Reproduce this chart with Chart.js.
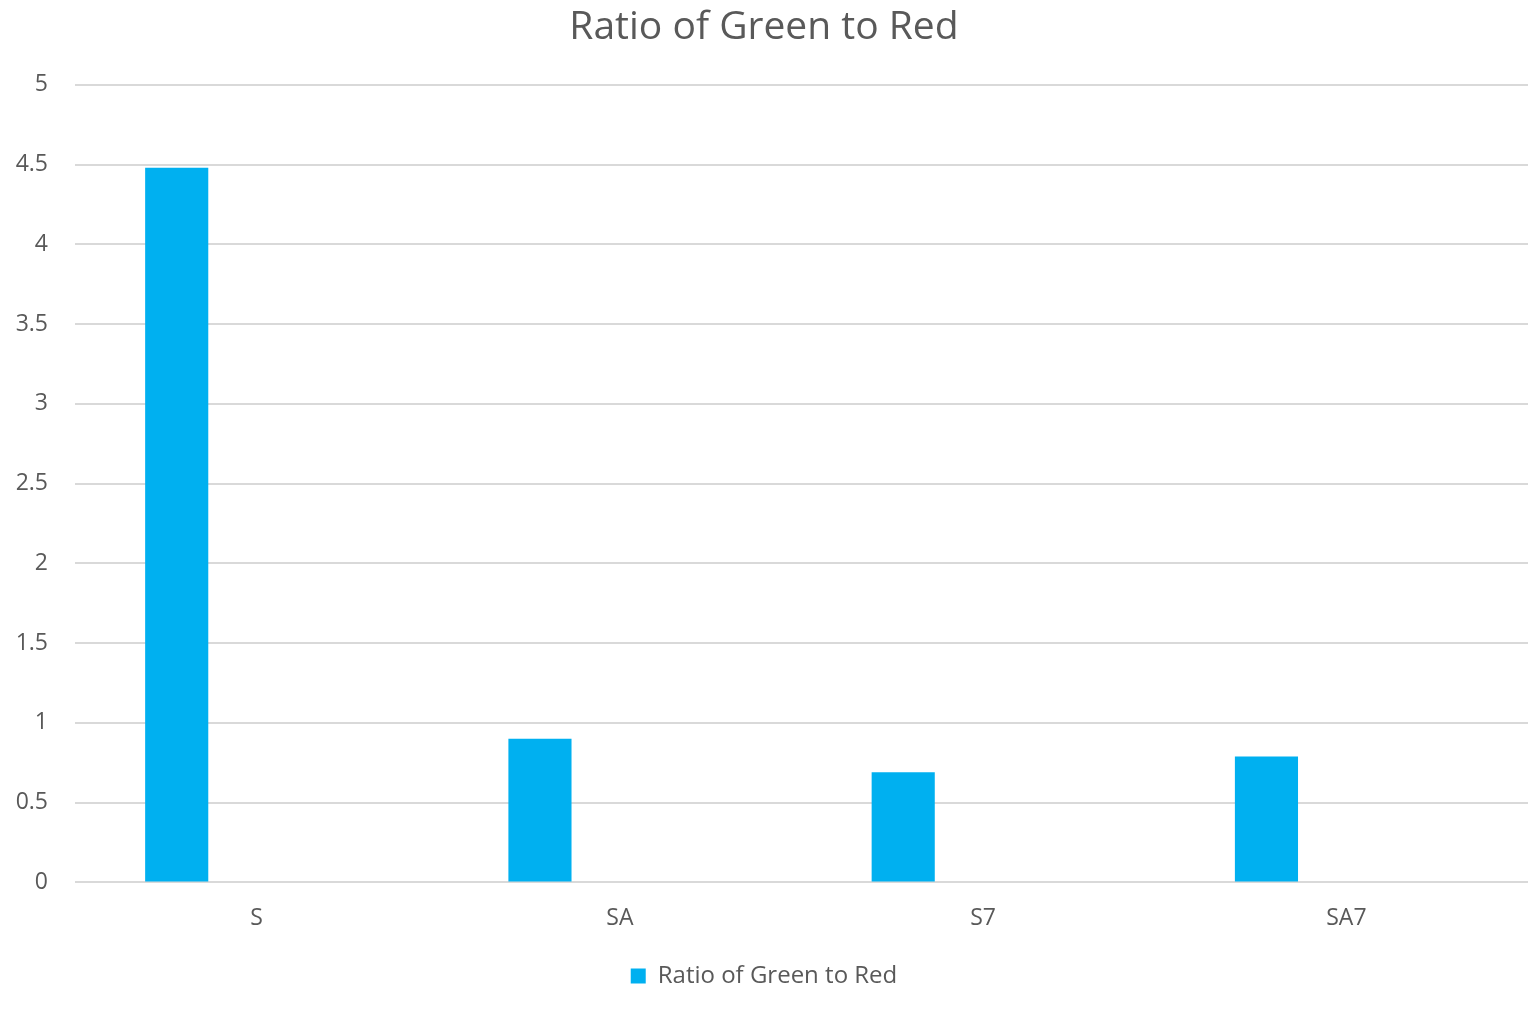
<!DOCTYPE html>
<html><head><meta charset="utf-8">
<script src="https://cdn.jsdelivr.net/npm/chart.js@4"></script>
<style>html,body{margin:0;padding:0;background:#fff;}#wrap{width:1535px;height:1009px;}</style>
</head><body><div id="wrap"><canvas id="c"></canvas></div>
<script>
const categories = ['S', 'SA', 'S7', 'SA7'];
const ratioValues = [4.48, 0.9, 0.69, 0.79];
const emptySeries = [null, null, null, null];
const seriesLabel = 'Ratio of Green to Red';
const titleText = 'Ratio of Green to Red';

const FONT = "'Open Sans', 'Noto Sans', sans-serif";
new Chart(document.getElementById('c'), {
  type: 'bar',
  data: {
    labels: categories,
    datasets: [
      { label: seriesLabel, data: ratioValues, backgroundColor: '#00B0F0', categoryPercentage: 0.88, barPercentage: 0.395 },
      { label: '', data: emptySeries, backgroundColor: 'rgba(0,0,0,0)', categoryPercentage: 0.88, barPercentage: 0.395 }
    ]
  },
  options: {
    responsive: true, maintainAspectRatio: false, animation: false,
    layout: { padding: { left: 0, right: 7, top: 4, bottom: 11 } },
    plugins: {
      title: { display: true, text: titleText, color: '#595959', font: { family: FONT, size: 39, weight: 'normal' }, padding: { top: 0, bottom: 34 } },
      legend: { position: 'bottom', labels: { color: '#595959', font: { family: FONT, size: 24 }, boxWidth: 15, boxHeight: 15, padding: 18,
        filter: (item) => item.datasetIndex === 0 } },
      tooltip: { enabled: false }
    },
    scales: {
      x: { grid: { display: false }, border: { display: false },
        ticks: { color: '#595959', font: { family: FONT, size: 23 }, padding: 14 } },
      y: { min: 0, max: 5, ticks: { stepSize: 0.5, color: '#595959', font: { family: FONT, size: 23 }, padding: 27,
          callback: (v) => String(Number(v)) },
        grid: { color: '#d9d9d9', lineWidth: 2, drawTicks: false }, border: { display: false },
        afterFit: (s) => { s.width = 75; } }
    }
  }
});
</script></body></html>
